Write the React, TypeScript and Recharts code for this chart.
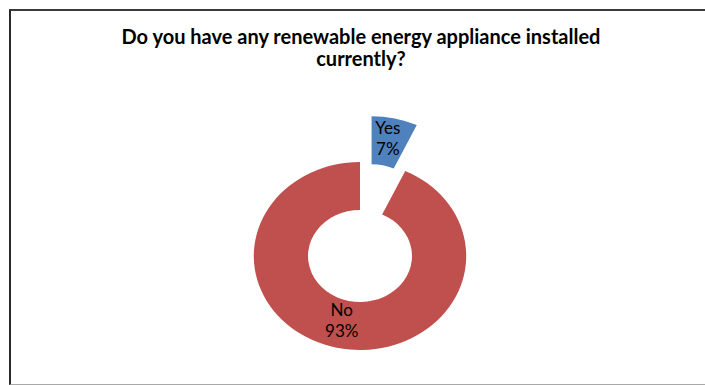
import { PieChart, Pie, Cell, Sector } from "recharts";

const categories = ["Yes", "No"];
const shares = [7, 93];
const colors = ["#4F81BD", "#C0504D"];
const titleLines = ["Do you have any renewable energy appliance installed", "currently?"];

const data = categories.map((name, i) => ({ name, value: shares[i] }));

const CX = 355;
const CY = 251;
const SX = 1.13; // the original ring is stretched sideways
const EXPLODE = 47;
const RAD = Math.PI / 180;
const FONT = "Lato, 'Open Sans', sans-serif";

function offsetFor(name: string, midAngle: number) {
  const off = name === "Yes" ? EXPLODE : 0;
  return { dx: off * Math.cos(-midAngle * RAD), dy: off * Math.sin(-midAngle * RAD) };
}

const renderSlice = (props: any) => {
  const { cx, cy, midAngle, payload, name } = props;
  const { dx, dy } = offsetFor(payload?.name ?? name, midAngle);
  return (
    <g transform={`translate(${cx} ${cy}) scale(${SX} 1) translate(${-cx + dx} ${-cy + dy})`}>
      <Sector
        cx={cx}
        cy={cy}
        innerRadius={props.innerRadius}
        outerRadius={props.outerRadius}
        startAngle={props.startAngle}
        endAngle={props.endAngle}
        fill={props.fill}
        stroke="none"
      />
    </g>
  );
};

const renderLabel = (props: any) => {
  const { cx, cy, midAngle, innerRadius, outerRadius, name, percent } = props;
  const r = (innerRadius + outerRadius) / 2;
  const { dx, dy } = offsetFor(name, midAngle);
  const x = cx + (r * Math.cos(-midAngle * RAD) + dx) * SX - 1;
  const y = cy + r * Math.sin(-midAngle * RAD) + dy;
  return (
    <text x={x} y={y} textAnchor="middle" fill="#000" fontSize={17} fontFamily={FONT}>
      <tspan x={x} dy={-8}>{name}</tspan>
      <tspan x={x} dy={21}>{Math.round(percent * 100)}%</tspan>
    </text>
  );
};

export default function App() {
  return (
    <div style={{ position: "absolute", left: 0, top: 0, width: 705, height: 385, background: "#fff" }}>
      <div
        style={{
          position: "absolute",
          left: 9,
          top: 9,
          width: 696,
          height: 373,
          borderTop: "2px solid #3a3a3a",
          borderLeft: "2px solid #2a2a2a",
          borderBottom: "1px solid #a8a8a8",
        }}
      />
      <div
        style={{
          position: "absolute",
          left: 0,
          top: 25,
          width: 722,
          textAlign: "center",
          fontFamily: FONT,
          fontWeight: 700,
          fontSize: 20,
          lineHeight: "22px",
          color: "#000",
        }}
      >
        {titleLines.map((t) => (
          <div key={t}>{t}</div>
        ))}
      </div>
      <div style={{ position: "absolute", left: 0, top: 0 }}>
        <PieChart width={705} height={385}>
          <Pie
            data={data}
            dataKey="value"
            nameKey="name"
            cx={CX}
            cy={CY}
            innerRadius={46}
            outerRadius={94}
            startAngle={90}
            endAngle={-270}
            stroke="none"
            isAnimationActive={false}
            shape={renderSlice}
            inactiveShape={renderSlice}
            activeShape={renderSlice}
            label={renderLabel}
            labelLine={false}
          >
            {data.map((d, i) => (
              <Cell key={d.name} fill={colors[i]} />
            ))}
          </Pie>
        </PieChart>
      </div>
    </div>
  );
}
